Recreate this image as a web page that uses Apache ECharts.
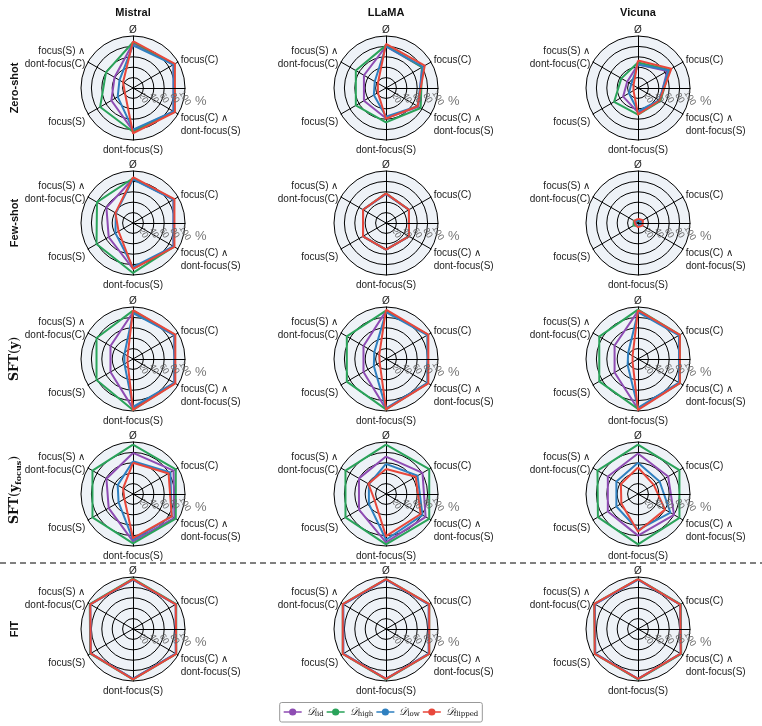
<!DOCTYPE html>
<html><head><meta charset="utf-8">
<script src="https://cdn.jsdelivr.net/npm/echarts@6/dist/echarts.min.js"></script>
<style>html,body{margin:0;padding:0;background:#fff}#c{width:762px;height:726px}</style>
</head><body><div id="c"></div>
<script>
// Axis labels, clockwise from the top
const axisLabels = ['Ø', 'focus(C)', 'focus(C) ∧\ndont-focus(S)', 'dont-focus(S)', 'focus(S)', 'focus(S) ∧\ndont-focus(C)'];
const models = ['Mistral', 'LLaMA', 'Vicuna'];
const methods = ['Zero-shot', 'Few-shot', 'SFT(y)', 'SFT(y_focus)', 'FIT'];
const seriesNames = ['iid', 'high', 'low', 'flipped'];
const seriesColors = ['#8e4cb3', '#2aa35a', '#2f80c0', '#e8473b'];
const radialTicks = [0, 20, 40, 60, 80, 100];

// Values per chart: rows = [iid, high, low, flipped]; columns follow axisLabels (clockwise)
const zeroShot_Mistral = [[86, 90, 90, 82, 48, 41], [88, 92, 92, 84, 73, 60], [82, 90, 90, 80, 34, 30], [90, 93, 93, 87, 18, 22]];
const zeroShot_LLaMA   = [[80, 80, 72, 58, 49, 49], [82, 80, 77, 66, 67, 67], [80, 82, 70, 55, 27, 25], [85, 86, 70, 59, 18, 18]];
const zeroShot_Vicuna  = [[45, 65, 48, 47, 33, 24], [49, 70, 50, 51, 53, 37], [45, 68, 47, 45, 20, 15], [53, 74, 48, 51, 10, 10]];
const fewShot_Mistral  = [[85, 90, 90, 88, 54, 59], [86, 91, 91, 96, 81, 80], [84, 90, 90, 85, 39, 38], [88, 92, 92, 88, 32, 39]];
const fewShot_LLaMA    = [[56, 51, 51, 51, 51, 51], [57, 51, 51, 51, 51, 51], [56, 51, 51, 51, 51, 51], [57, 51, 51, 51, 51, 51]];
const fewShot_Vicuna   = [[6, 6, 6, 6, 6, 6], [5, 5, 6, 6, 10, 9], [6, 6, 6, 6, 6, 6], [8, 11, 10, 8, 6, 8]];
const sft_Mistral      = [[90, 92, 92, 95, 50, 50], [93, 93, 93, 98, 81, 81], [88, 92, 92, 92, 19, 19], [94, 94, 94, 98, 12, 12]];
const sft_LLaMA        = [[92, 93, 93, 96, 50, 50], [93, 93, 93, 97, 87, 87], [90, 92, 92, 95, 27, 26], [95, 94, 94, 97, 14, 15]];
const sft_Vicuna       = [[92, 92, 92, 96, 52, 52], [95, 93, 93, 96, 86, 86], [90, 91, 91, 94, 23, 22], [94, 93, 93, 98, 12, 12]];
const sftFocus_Mistral = [[79, 90, 92, 91, 54, 59], [95, 95, 95, 95, 90, 90], [63, 83, 86, 88, 32, 34], [60, 79, 86, 85, 19, 22]];
const sftFocus_LLaMA   = [[72, 81, 88, 93, 60, 60], [95, 96, 96, 97, 90, 90], [58, 70, 81, 88, 38, 38], [48, 66, 77, 81, 25, 39]];
const sftFocus_Vicuna  = [[78, 67, 80, 80, 67, 67], [95, 92, 92, 97, 89, 90], [60, 48, 72, 69, 48, 48], [51, 35, 60, 72, 37, 38]];
const fit_Mistral      = [[95, 95, 95, 96, 94, 95], [97, 96, 96, 97, 95, 96], [95, 95, 95, 96, 94, 95], [96, 95, 96, 97, 94, 95]];
const fit_LLaMA        = [[95, 95, 95, 96, 95, 95], [96, 96, 96, 97, 96, 96], [95, 95, 95, 96, 95, 95], [96, 96, 96, 96, 96, 96]];
const fit_Vicuna       = [[95, 94, 95, 96, 95, 96], [96, 95, 96, 97, 96, 97], [95, 94, 95, 96, 95, 96], [96, 94, 95, 96, 96, 97]];

const grid = [
  [zeroShot_Mistral, zeroShot_LLaMA, zeroShot_Vicuna],
  [fewShot_Mistral, fewShot_LLaMA, fewShot_Vicuna],
  [sft_Mistral, sft_LLaMA, sft_Vicuna],
  [sftFocus_Mistral, sftFocus_LLaMA, sftFocus_Vicuna],
  [fit_Mistral, fit_LLaMA, fit_Vicuna]
];

// layout
const colX = [133, 386, 638];
const rowY = [88, 223, 359, 494, 629];
const R = 52;
const CCW = [0, 5, 4, 3, 2, 1]; // ECharts radar goes counter-clockwise
const FONT = "'Liberation Sans', Arial, sans-serif";

function nameFmt(name) {
  if (name === axisLabels[0]) return '{top|' + name + '}';
  if (name === axisLabels[3]) return '{bot|' + name + '}';
  if (name === axisLabels[2]) return '{g2| }\n' + name;
  if (name === axisLabels[4]) return ' \n' + name;
  if (name === axisLabels[5]) return name + '\n{g5| }';
  return name;
}

const radar = [], polar = [], angleAxis = [], radiusAxis = [], series = [];
grid.forEach((row, ri) => row.forEach((chart, ci) => {
  const idx = ri * 3 + ci;
  const c = [colX[ci], rowY[ri]];
  radar.push({
    center: c, radius: R, startAngle: 90, shape: 'circle', splitNumber: 5,
    indicator: CCW.map(k => ({ name: axisLabels[k], min: 0, max: 100 })),
    axisName: {
      color: '#222', fontSize: 10, fontFamily: FONT, lineHeight: 12.5, formatter: nameFmt,
      rich: {
        top: { fontSize: 10, fontFamily: FONT, color: '#222', lineHeight: 6 },
        bot: { fontSize: 10, fontFamily: FONT, color: '#222', lineHeight: 15 },
        g2: { fontSize: 10, lineHeight: 18.5 },
        g5: { fontSize: 10, lineHeight: 5.5 }
      }
    },
    axisNameGap: 3, nameGap: 3,
    axisLine: { lineStyle: { color: '#000', width: 1 } },
    splitLine: { lineStyle: { color: '#000', width: 1 } },
    splitArea: { show: true, areaStyle: { color: ['#eef2f7'] } },
    axisTick: { show: false }, axisLabel: { show: false }
  });
  polar.push({ center: c, radius: R });
  angleAxis.push({ polarIndex: idx, type: 'value', min: 0, max: 360, startAngle: 0, show: false });
  radiusAxis.push({
    polarIndex: idx, type: 'value', min: radialTicks[0], max: radialTicks[radialTicks.length - 1],
    interval: radialTicks[1] - radialTicks[0], z: 10,
    axisLine: { lineStyle: { color: '#000', width: 1 } },
    axisTick: { show: false }, splitLine: { show: false },
    axisLabel: { rotate: -60, color: '#666', fontSize: 9, fontFamily: FONT, margin: -10,
                 align: 'center', verticalAlign: 'middle', showMinLabel: false, showMaxLabel: true, hideOverlap: false,
                 formatter: v => (v === 0 ? '' : String(v)) },
    name: '%', nameLocation: 'end', nameGap: 8,
    nameTextStyle: { color: '#777', fontSize: 13, fontFamily: FONT, verticalAlign: 'top', padding: [7, 0, 0, 0] }
  });
  series.push({
    type: 'radar', radarIndex: idx, symbol: 'none', silent: true,
    data: seriesNames.map((n, j) => ({
      name: n, value: CCW.map(k => chart[j][k]),
      lineStyle: { color: seriesColors[j], width: 2 },
      itemStyle: { color: seriesColors[j] }
    }))
  });
}));

const graphic = [];
models.forEach((m, i) => graphic.push({
  type: 'text', x: colX[i], y: 13,
  style: { text: m, font: "bold 11px " + FONT, fill: '#111', textAlign: 'center', textVerticalAlign: 'middle' }
}));
const rowText = [
  { text: methods[0], rich: null },
  { text: methods[1], rich: null },
  { text: '{b|SFT}{p|(}{y|y}{p|)}', rich: true },
  { text: '{b|SFT}{p|(}{y|y}{s|focus}{p|)}', rich: true },
  { text: methods[4], rich: null }
];
rowText.forEach((r, i) => {
  const style = r.rich ? {
    text: r.text, fill: '#111', textAlign: 'center', textVerticalAlign: 'middle',
    rich: {
      b: { fontFamily: 'DejaVu Serif', fontWeight: 'bold', fontSize: 12.5, fill: '#111' },
      p: { fontFamily: 'DejaVu Serif', fontSize: 12.5, fill: '#111' },
      y: { fontFamily: 'DejaVu Serif', fontWeight: 'bold', fontSize: 12.5, fill: '#111' },
      s: { fontFamily: 'DejaVu Serif', fontWeight: 'bold', fontSize: 8, fill: '#111', padding: [8, 0, 0, 0] }
    }
  } : { text: r.text, font: "bold 11px " + FONT, fill: '#111', textAlign: 'center', textVerticalAlign: 'middle' };
  graphic.push({ type: 'text', x: 15, y: rowY[i] + (i === 3 ? -4 : 0), rotation: Math.PI / 2, style });
});
graphic.push({
  type: 'line', shape: { x1: 0, y1: 563, x2: 762, y2: 563 },
  style: { stroke: '#000', lineWidth: 1, lineDash: [6, 4] }
});

const chart = echarts.init(document.getElementById('c'), null, { renderer: 'canvas' });
chart.setOption({
  animation: false,
  backgroundColor: '#fff',
  radar, polar, angleAxis, radiusAxis, series, graphic,
  legend: {
    data: seriesNames, bottom: 4, left: 'center', orient: 'horizontal',
    icon: 'path://M0,4.3 L20,4.3 L20,5.7 L0,5.7 Z M14,5 A4,4 0 1 1 6,5 A4,4 0 1 1 14,5 Z',
    itemWidth: 18, itemHeight: 8, itemGap: 3,
    borderColor: '#999', borderWidth: 1, borderRadius: 2, padding: [4, 4],
    formatter: n => '{d|𝒟}{s|' + n + '}',
    textStyle: {
      color: '#111',
      rich: {
        d: { fontFamily: 'DejaVu Serif', fontStyle: 'italic', fontSize: 10.5 },
        s: { fontFamily: 'DejaVu Serif', fontSize: 7, padding: [5, 0, 0, 0] }
      }
    }
  }
});
</script></body></html>
